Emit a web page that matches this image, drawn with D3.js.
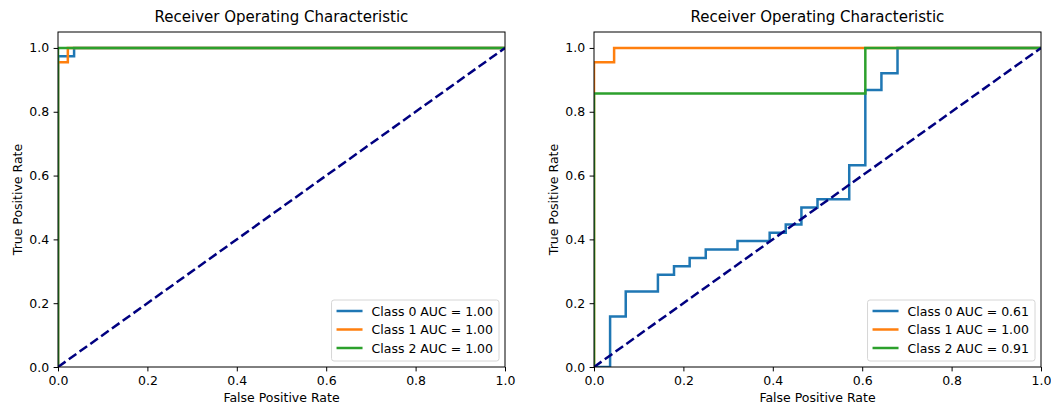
<!DOCTYPE html>
<html>
<head>
<meta charset="utf-8">
<script src="https://cdn.jsdelivr.net/npm/d3@7"></script>
<style>
  body { margin: 0; background: #fff; }
  svg { display: block; font-family: "DejaVu Sans", sans-serif; }
</style>
</head>
<body>
<svg width="1051" height="407"></svg>
<script>
// classes and colours
const classNames = ["Class 0", "Class 1", "Class 2"]
const colors = ["#1f77b4", "#ff7f0e", "#2ca02c"]
const tickValues = [0, 0.2, 0.4, 0.6, 0.8, 1.0]
const chartTitle = "Receiver Operating Characteristic"

// left panel
const leftAuc = [1.00, 1.00, 1.00]
const leftFpr0 = [0, 0, 0.036, 0.036, 1]
const leftTpr0 = [0, 0.974, 0.974, 1, 1]
const leftFpr1 = [0, 0, 0.022, 0.022, 1]
const leftTpr1 = [0, 0.955, 0.955, 1, 1]
const leftFpr2 = [0, 0, 1]
const leftTpr2 = [0, 1, 1]

// right panel
const rightAuc = [0.61, 1.00, 0.91]
const rightFpr0 = [0, 0.036, 0.036, 0.071, 0.071, 0.143, 0.143, 0.179, 0.179, 0.214, 0.214, 0.25, 0.25,
    0.321, 0.321, 0.393, 0.393, 0.429, 0.429, 0.464, 0.464, 0.5, 0.5, 0.571, 0.571, 0.607, 0.607,
    0.643, 0.643, 0.679, 0.679, 1]
const rightTpr0 = [0, 0, 0.158, 0.158, 0.237, 0.237, 0.289, 0.289, 0.316, 0.316, 0.342, 0.342, 0.368,
    0.368, 0.395, 0.395, 0.421, 0.421, 0.447, 0.447, 0.5, 0.5, 0.526, 0.526, 0.632, 0.632, 0.868,
    0.868, 0.921, 0.921, 1, 1]
const rightFpr1 = [0, 0, 0.045, 0.045, 1]
const rightTpr1 = [0, 0.955, 0.955, 1, 1]
const rightFpr2 = [0, 0, 0.607, 0.607, 1]
const rightTpr2 = [0, 0.857, 0.857, 1, 1]

const chance = [0, 1]

const panelWidth = 447
const plotTop = 32
const plotBottom = 367
const fontSize = 12.5

const svg = d3.select("svg")

drawPanel(0, 58, [[leftFpr0, leftTpr0], [leftFpr1, leftTpr1], [leftFpr2, leftTpr2]], leftAuc)
drawPanel(1, 594, [[rightFpr0, rightTpr0], [rightFpr1, rightTpr1], [rightFpr2, rightTpr2]], rightAuc)

function drawPanel(idx, left, curves, auc){
    const x = d3.scaleLinear().domain([0, 1]).range([left, left + panelWidth])
    const y = d3.scaleLinear().domain([0, 1.05]).range([plotBottom, plotTop])

    const line = d3.line()
        .x(d => x(d[0]))
        .y(d => y(d[1]))

    svg.append("clipPath")
        .attr("id", "clip" + idx)
        .append("rect")
        .attr("x", x(0))
        .attr("y", plotTop)
        .attr("width", panelWidth)
        .attr("height", plotBottom - plotTop)

    const g = svg.append("g")
        .attr("clip-path", `url(#clip${idx})`)

    g.selectAll("path.roc")
        .data(curves)
        .enter()
        .append("path")
        .attr("class", "roc")
        .attr("d", d => line(d3.zip(d[0], d[1])))
        .style("fill", "none")
        .style("stroke", (d, i) => colors[i])
        .style("stroke-width", 2.5)

    g.append("path")
        .attr("d", line(d3.zip(chance, chance)))
        .style("fill", "none")
        .style("stroke", "navy")
        .style("stroke-width", 2.5)
        .style("stroke-dasharray", "9.25 4")

    // axes
    const xAxis = d3.axisBottom(x)
        .tickValues(tickValues)
        .tickFormat(d3.format(".1f"))
        .tickSize(4.4)
        .tickPadding(4.4)
    const yAxis = d3.axisLeft(y)
        .tickValues(tickValues)
        .tickFormat(d3.format(".1f"))
        .tickSize(4.4)
        .tickPadding(4.4)

    svg.append("g")
        .attr("transform", `translate(0, ${plotBottom})`)
        .call(xAxis)
        .call(a => a.select(".domain").remove())
        .attr("font-family", "DejaVu Sans")
        .attr("font-size", fontSize)
        .style("color", "#000")

    svg.append("g")
        .attr("transform", `translate(${x(0)}, 0)`)
        .call(yAxis)
        .call(a => a.select(".domain").remove())
        .attr("font-family", "DejaVu Sans")
        .attr("font-size", fontSize)
        .style("color", "#000")

    // frame
    svg.append("rect")
        .attr("x", x(0))
        .attr("y", plotTop)
        .attr("width", panelWidth)
        .attr("height", plotBottom - plotTop)
        .style("fill", "none")
        .style("stroke", "#000")
        .style("stroke-width", 1)

    // title and labels
    svg.append("text")
        .attr("x", x(0.5))
        .attr("y", 22)
        .attr("text-anchor", "middle")
        .style("font-size", "15px")
        .text(chartTitle)

    svg.append("text")
        .attr("x", x(0.5))
        .attr("y", 402)
        .attr("text-anchor", "middle")
        .style("font-size", fontSize + "px")
        .text("False Positive Rate")

    svg.append("text")
        .attr("transform", `translate(${x(0) - 36}, ${y(0.525)}) rotate(-90)`)
        .attr("text-anchor", "middle")
        .style("font-size", fontSize + "px")
        .text("True Positive Rate")

    // legend
    const legend = svg.append("g")
    const box = legend.append("rect")
        .attr("rx", 2.5)
        .style("fill", "#fff")
        .style("fill-opacity", 0.8)
        .style("stroke", "#d6d6d6")
        .style("stroke-width", 1)

    const rows = legend.selectAll("g.row")
        .data(classNames)
        .enter()
        .append("g")
        .attr("class", "row")
        .attr("transform", (d, i) => `translate(0, ${11 + i * 18.5})`)

    rows.append("line")
        .attr("x1", 5)
        .attr("x2", 31)
        .style("stroke", (d, i) => colors[i])
        .style("stroke-width", 2.5)

    const labels = rows.append("text")
        .attr("x", 40)
        .attr("dy", "0.36em")
        .style("font-size", fontSize + "px")
        .text((d, i) => `${d} AUC = ${auc[i].toFixed(2)}`)

    const textWidth = d3.max(labels.nodes(), n => n.getComputedTextLength())
    const boxWidth = 40 + textWidth + 6
    const boxHeight = 61
    box.attr("width", boxWidth).attr("height", boxHeight)

    legend.attr("transform", `translate(${x(1) - 6 - boxWidth}, ${plotBottom - 6 - boxHeight})`)
}
</script>
</body>
</html>
